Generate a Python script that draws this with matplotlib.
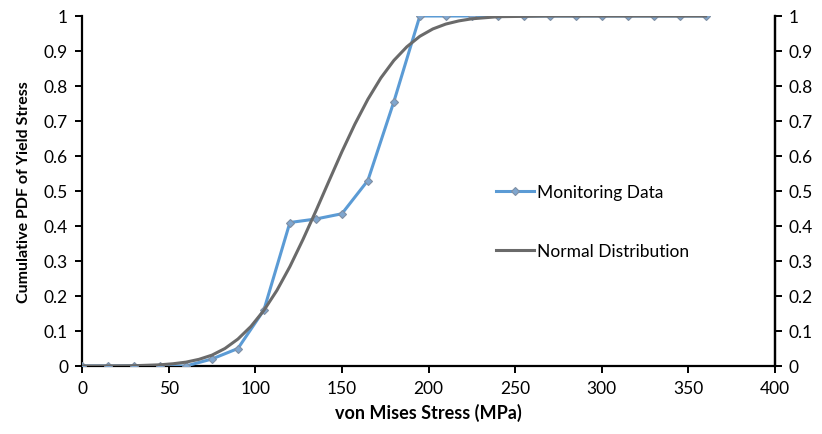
import matplotlib
matplotlib.use("Agg")
import matplotlib.pyplot as plt

plt.rcParams['font.family'] = ['Lato', 'DejaVu Sans']

# Monitoring data (cumulative fraction of yield stress)
stress_monitor = [0, 15, 30, 45, 60, 75, 90, 105, 120, 135, 150, 165, 180,
                  195, 210, 225, 240, 255, 270, 285, 300, 315, 330, 345, 360]
cdf_monitor = [0.0, 0.0, 0.0, 0.0, 0.0, 0.02, 0.05, 0.16, 0.41, 0.42, 0.435,
               0.53, 0.755, 1.0, 1.0, 1.0, 1.0, 1.0, 1.0, 1.0, 1.0, 1.0,
               1.0, 1.0, 1.0]

# Fitted normal distribution curve
stress_normal = [0, 15, 30, 45, 52.5, 60, 67.5, 75, 82.5, 90, 97.5, 105,
                 112.5, 120, 127.5, 135, 142.5, 150, 157.5, 165, 172.5, 180,
                 187.5, 195, 202.5, 210, 217.5, 225, 240, 255, 270, 285,
                 300, 315, 330, 345, 360]
cdf_normal = [0.0, 0.0002, 0.0008, 0.0034, 0.0064, 0.011, 0.019, 0.031,
              0.050, 0.077, 0.113, 0.159, 0.216, 0.284, 0.361, 0.443,
              0.528, 0.612, 0.691, 0.762, 0.823, 0.873, 0.912, 0.942,
              0.963, 0.977, 0.986, 0.992, 0.998, 0.999, 1.0, 1.0, 1.0,
              1.0, 1.0, 1.0, 1.0]

x_ticks = [0, 50, 100, 150, 200, 250, 300, 350, 400]
y_ticks = [0, 0.1, 0.2, 0.3, 0.4, 0.5, 0.6, 0.7, 0.8, 0.9, 1]
y_labels = ['0', '0.1', '0.2', '0.3', '0.4', '0.5', '0.6', '0.7', '0.8', '0.9', '1']

fig = plt.figure(figsize=(8.22, 4.35), dpi=100)
ax = fig.add_axes([82 / 822, 1 - 367 / 435, (775 - 82) / 822, (367 - 17) / 435])

blue = '#5b9bd5'
grey = '#6a6a6a'

ax.plot(stress_monitor, cdf_monitor, color=blue, lw=2.2, marker='D',
        markersize=4.5, markerfacecolor='#7fa6cf', markeredgecolor='#7f8fa3',
        markeredgewidth=0.8, label='Monitoring Data', zorder=3)
ax.plot(stress_normal, cdf_normal, color=grey, lw=2.2,
        label='Normal Distribution', zorder=4)

ax.set_xlim(0, 400)
ax.set_ylim(0, 1)
ax.set_xticks(x_ticks)
ax.set_yticks(y_ticks)
ax.set_yticklabels(y_labels)

ax.spines['top'].set_visible(False)
for side in ['left', 'bottom', 'right']:
    ax.spines[side].set_linewidth(1.6)
    ax.spines[side].set_color('black')

ax.tick_params(axis='both', direction='out', length=5, width=1.4,
               labelsize=12.5, colors='black', pad=5)

ax2 = ax.twinx()
ax2.set_ylim(0, 1)
ax2.set_yticks(y_ticks)
ax2.set_yticklabels(y_labels)
for side in ['top', 'left', 'bottom']:
    ax2.spines[side].set_visible(False)
ax2.spines['right'].set_linewidth(1.6)
ax2.tick_params(axis='y', direction='out', length=5, width=1.4,
                labelsize=12.5, colors='black', pad=5)

ax.set_xlabel('von Mises Stress (MPa)', fontsize=13, fontweight='bold',
              labelpad=5)
ax.set_ylabel('Cumulative PDF of Yield Stress', fontsize=11.5,
              fontweight='bold', labelpad=9)

ax.legend(loc='center left', bbox_to_anchor=(0.575, 0.413), frameon=False,
          fontsize=12.5, labelspacing=2.45, handlelength=2.2,
          handletextpad=0.15)

fig.savefig('out.png', dpi=100, facecolor='white')
